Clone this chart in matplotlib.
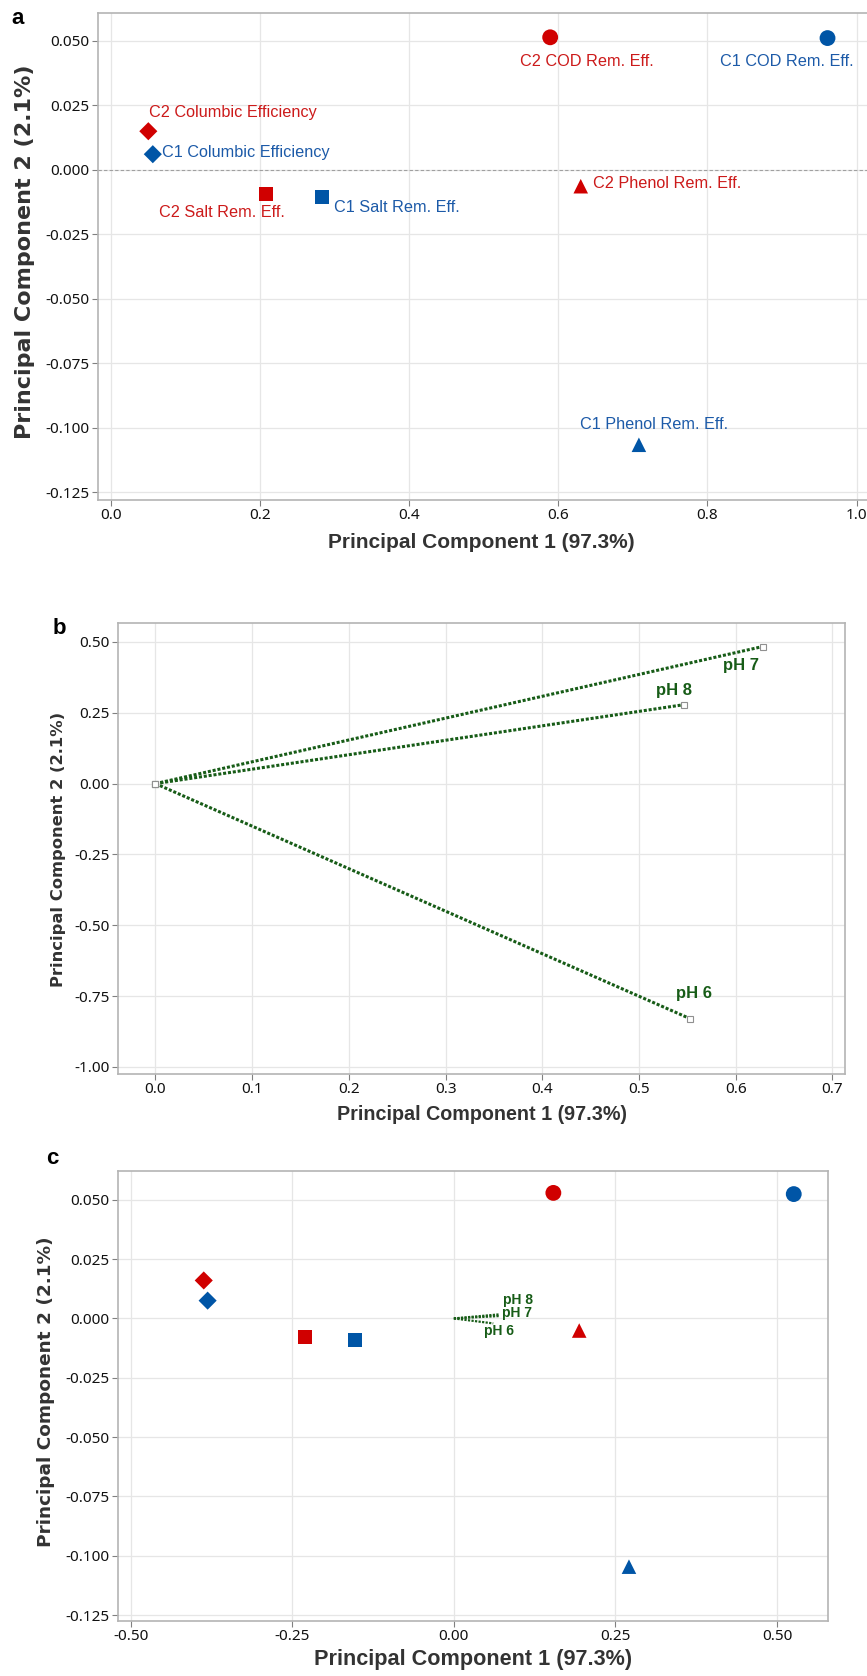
import matplotlib
matplotlib.use('Agg')
import matplotlib.pyplot as plt
from matplotlib.ticker import FormatStrFormatter, MultipleLocator

# response loadings (PC1, PC2), panel a
resp_names = ["C2 COD Rem. Eff.", "C1 COD Rem. Eff.",
              "C2 Columbic Efficiency", "C1 Columbic Efficiency",
              "C2 Salt Rem. Eff.", "C1 Salt Rem. Eff.",
              "C2 Phenol Rem. Eff.", "C1 Phenol Rem. Eff."]
resp_pc1 = [0.589, 0.961, 0.050, 0.056, 0.208, 0.283, 0.630, 0.708]
resp_pc2 = [0.0513, 0.0510, 0.0149, 0.0060, -0.0093, -0.0107, -0.0064, -0.1066]
resp_group = ["C2", "C1", "C2", "C1", "C2", "C1", "C2", "C1"]
resp_kind = ["COD", "COD", "CE", "CE", "Salt", "Salt", "Phenol", "Phenol"]

# pH score vectors, panel b
ph_names = ["pH 7", "pH 8", "pH 6"]
ph_pc1 = [0.628, 0.547, 0.553]
ph_pc2 = [0.484, 0.279, -0.830]

# biplot, panel c
bi_pc1 = [0.154, 0.526, -0.387, -0.381, -0.230, -0.153, 0.194, 0.271]
bi_pc2 = [0.0529, 0.0524, 0.0160, 0.0075, -0.0079, -0.0090, -0.0051, -0.1046]
bi_ph_pc1 = [0.070, 0.070, 0.061]
bi_ph_pc2 = [0.0010, 0.0017, -0.0021]

RED = "#d00000"
BLUE = "#0055a6"
RED_TXT = "#cc1a1a"
BLUE_TXT = "#1c5aa8"
GREEN = "#175c17"
GRID = "#e6e6e6"
SPINE = "#b4b4b4"
MARKERS = {"COD": "o", "CE": "D", "Salt": "s", "Phenol": "^"}
MSIZE = {"COD": 130, "CE": 85, "Salt": 105, "Phenol": 110}

TICKFONT = ["Noto Sans", "DejaVu Sans"]
ARIAL = ["Liberation Sans", "DejaVu Sans"]

fig = plt.figure(figsize=(8.67, 16.76), dpi=100)


def style_axes(ax, xfmt, yfmt):
    for s in ax.spines.values():
        s.set_color(SPINE)
        s.set_linewidth(1.2)
    ax.grid(True, color=GRID, linewidth=0.9, zorder=0)
    ax.set_axisbelow(True)
    ax.tick_params(direction="out", length=4, width=0.8, color="#808080",
                   labelsize=11, labelcolor="#111111", pad=2)
    for lab in ax.get_xticklabels() + ax.get_yticklabels():
        lab.set_family(TICKFONT)
    ax.xaxis.set_major_formatter(FormatStrFormatter(xfmt))
    ax.yaxis.set_major_formatter(FormatStrFormatter(yfmt))


def draw_points(ax, xs, ys):
    for x, y, g, k in zip(xs, ys, resp_group, resp_kind):
        ax.scatter(x, y, s=MSIZE[k], marker=MARKERS[k],
                   color=RED if g == "C2" else BLUE, edgecolors="none", zorder=3)


def px(x, y):
    # pixel position (from top-left) to figure fraction
    return x / 867.0, 1 - y / 1676.0


def ylabel(x, y, size):
    fig.text(*px(x, y), "Principal Component 2 (2.1%)", rotation=90,
             fontsize=size, fontweight="bold", family=["DejaVu Sans"],
             color="#333333", ha="center", va="center")


def xlabel(x, y, size):
    fig.text(*px(x, y), "Principal Component 1 (97.3%)", fontsize=size,
             fontweight="bold", family=ARIAL, color="#333333",
             ha="center", va="center")


# ---- a: response loadings
ax = fig.add_axes([98 / 867, 1 - 500 / 1676, 775 / 867, 486.7 / 1676])
ax.set_xlim(-0.0175, 1.022)
ax.set_ylim(-0.128, 0.0606)
ax.xaxis.set_major_locator(MultipleLocator(0.2))
ax.yaxis.set_major_locator(MultipleLocator(0.025))
style_axes(ax, "%.1f", "%.3f")
ax.axhline(0, color="#a0a0a0", linewidth=0.8, linestyle=(0, (3, 2)), zorder=1)
draw_points(ax, resp_pc1, resp_pc2)
lab_pos = [(0.549, 0.0421), (0.817, 0.0421), (0.0511, 0.0223), (0.068, 0.0067),
           (0.0646, -0.0166), (0.2995, -0.0147), (0.647, -0.0053), (0.629, -0.0986)]
for name, (lx, ly), g in zip(resp_names, lab_pos, resp_group):
    ax.text(lx, ly, name, color=RED_TXT if g == "C2" else BLUE_TXT,
            fontsize=11.7, family=ARIAL, ha="left", va="center", zorder=4)
fig.text(*px(18, 19), "a", fontsize=16, fontweight="bold", family=ARIAL,
         ha="center", va="center")
ylabel(25, 252, 16)
xlabel(481, 542, 15)

# ---- b: pH vectors
ax = fig.add_axes([118 / 867, 1 - 1074 / 1676, 727 / 867, 451 / 1676])
ax.set_xlim(-0.0387, 0.713)
ax.set_ylim(-1.025, 0.567)
ax.xaxis.set_major_locator(MultipleLocator(0.1))
ax.yaxis.set_major_locator(MultipleLocator(0.25))
style_axes(ax, "%.1f", "%.2f")
for x, y in zip(ph_pc1, ph_pc2):
    ax.plot([0, x], [0, y], color=GREEN, linewidth=2.2, linestyle=(0, (1, 0.6)),
            zorder=3)
    ax.plot([0, x], [0, y], linestyle="none", marker="s", markersize=4,
            markerfacecolor="white", markeredgecolor="#909090",
            markeredgewidth=0.8, zorder=4)
ph_lab_b = [(0.6055, 0.418), (0.536, 0.327), (0.557, -0.740)]
for name, (lx, ly) in zip(ph_names, ph_lab_b):
    ax.text(lx, ly, name, color=GREEN, fontsize=12, fontweight="bold",
            family=ARIAL, ha="center", va="center")
fig.text(*px(59, 628), "b", fontsize=16, fontweight="bold", family=ARIAL,
         ha="center", va="center")
ylabel(59, 849, 11.8)
xlabel(482, 1115, 14.2)

# ---- c: biplot
ax = fig.add_axes([117.8 / 867, 1 - 1621 / 1676, 710.2 / 867, 449.7 / 1676])
ax.set_xlim(-0.52, 0.579)
ax.set_ylim(-0.1275, 0.062)
ax.xaxis.set_major_locator(MultipleLocator(0.25))
ax.yaxis.set_major_locator(MultipleLocator(0.025))
style_axes(ax, "%.2f", "%.3f")
draw_points(ax, bi_pc1, bi_pc2)
for x, y in zip(bi_ph_pc1, bi_ph_pc2):
    ax.plot([0, x], [0, y], color=GREEN, linewidth=1.6, linestyle=(0, (1, 0.6)),
            zorder=3)
ph_lab_c = [(0.0982, 0.0021), (0.0998, 0.0076), (0.0704, -0.0051)]
for name, (lx, ly) in zip(ph_names, ph_lab_c):
    ax.text(lx, ly, name, color=GREEN, fontsize=10, fontweight="bold",
            family=ARIAL, ha="center", va="center")
fig.text(*px(52, 1159), "c", fontsize=16, fontweight="bold", family=ARIAL,
         ha="center", va="center")
ylabel(46, 1392, 13.3)
xlabel(473, 1659, 15.6)

fig.savefig("out.png", dpi=100, facecolor="white")
